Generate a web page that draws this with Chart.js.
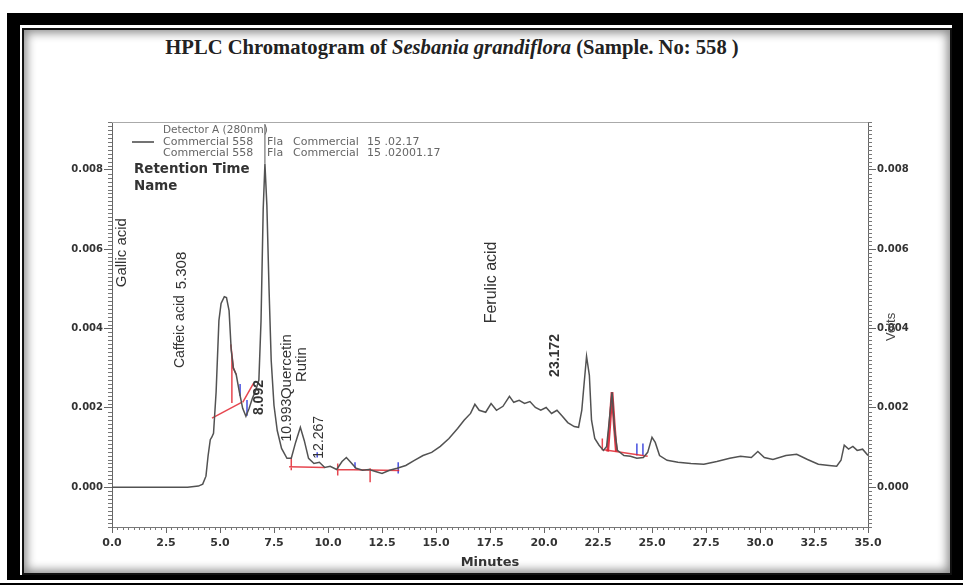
<!DOCTYPE html>
<html>
<head>
<meta charset="utf-8">
<script src="https://cdn.jsdelivr.net/npm/chart.js@4.4.1/dist/chart.umd.min.js"></script>
<style>
html, body { margin: 0; padding: 0; background: #fff; width: 963px; height: 585px; overflow: hidden; }
#frame { position: absolute; left: 7px; top: 13px; width: 956px; height: 567px; background: #000; }
#gap { position: absolute; left: 20px; top: 25px; width: 932px; height: 550px; background: #fff; }
#inner { position: absolute; left: 22px; top: 28px; width: 926px; height: 543px; border: 2px solid #111; background: #fff;
         box-shadow: inset 0 0 10px 3px rgba(0,0,0,0.45); }
#base { position: absolute; left: 0; top: 583px; width: 963px; height: 2px; background: #000; }
#title { position: absolute; left: 0; top: 36px; width: 904px; text-align: center; font-family: "Liberation Serif", serif;
         font-weight: bold; font-size: 20.6px; color: #222; white-space: nowrap; }
canvas { position: absolute; left: 0; top: 0; }
</style>
</head>
<body>
<div id="frame"></div>
<div id="gap"></div>
<div id="inner"></div>
<div id="base"></div>
<div id="title">HPLC Chromatogram of <i>Sesbania grandiflora</i> (Sample. No: 558 )</div>
<canvas id="c" width="963" height="585"></canvas>
<script>
// trace du détecteur (minutes, volts)
const times = [0.0, 2.0, 3.5, 4.0, 4.2, 4.35, 4.45, 4.55, 4.62, 4.7, 4.82, 4.95, 5.05, 5.2, 5.3, 5.42, 5.52, 5.62, 5.75, 5.9,
  6.05, 6.2, 6.35, 6.5, 6.65, 6.8, 6.9, 7.0, 7.08, 7.17, 7.27, 7.37, 7.5, 7.65, 7.85, 8.1, 8.3, 8.5, 8.72, 8.9,
  9.1, 9.35, 9.6, 9.85, 10.1, 10.4, 10.65, 10.85, 11.05, 11.3, 11.6, 11.9, 12.2, 12.5, 12.85, 13.2, 13.6, 14.0, 14.4, 14.8,
  15.2, 15.6, 16.0, 16.3, 16.6, 16.8, 17.0, 17.3, 17.55, 17.8, 18.1, 18.4, 18.6, 18.85, 19.1, 19.35, 19.6, 19.85, 20.1, 20.35,
  20.6, 20.85, 21.1, 21.4, 21.6, 21.75, 21.85, 21.97, 22.1, 22.2, 22.35, 22.55, 22.75, 22.9, 23.0, 23.15, 23.27, 23.4, 23.7, 24.0,
  24.3, 24.6, 24.8, 25.0, 25.15, 25.35, 25.7, 26.2, 26.8, 27.4, 28.0, 28.6, 29.1, 29.6, 29.9, 30.2, 30.6, 31.2, 31.7, 32.2,
  32.7, 33.2, 33.55, 33.75, 33.9, 34.1, 34.3, 34.5, 34.75, 35.0];
const volts = [0.0, 0.0, 0.0, 0.00003, 0.00008, 0.00028, 0.0008, 0.0012, 0.00126, 0.00136, 0.0024, 0.0042, 0.00463, 0.0048, 0.00478, 0.00445, 0.00345, 0.003, 0.00284, 0.00239,
  0.00199, 0.00179, 0.00199, 0.00224, 0.00244, 0.0027, 0.0042, 0.007, 0.00815, 0.0071, 0.005, 0.0032, 0.00206, 0.00143, 0.00098, 0.00073, 0.00073, 0.00113, 0.00151, 0.00118,
  0.00073, 0.0006, 0.00063, 0.0005, 0.00053, 0.00045, 0.00065, 0.00075, 0.00063, 0.00048, 0.00043, 0.00045, 0.0004, 0.00035, 0.00043, 0.00048, 0.00055, 0.00068, 0.0008, 0.00088,
  0.00103, 0.00123, 0.00148, 0.00169, 0.00186, 0.00209, 0.00194, 0.00189, 0.00211, 0.00194, 0.00204, 0.00229, 0.00214, 0.00219, 0.00211, 0.00216, 0.00201, 0.00194, 0.00201, 0.00186,
  0.00194, 0.00179, 0.00163, 0.00153, 0.00151, 0.00194, 0.00257, 0.0033, 0.00282, 0.00169, 0.00123, 0.00106, 0.00093, 0.00103, 0.00156, 0.00239, 0.00143, 0.00093, 0.0008, 0.00078,
  0.00073, 0.00075, 0.00088, 0.00126, 0.00113, 0.0008, 0.00068, 0.00063, 0.0006, 0.00058, 0.00065, 0.00073, 0.00078, 0.00075, 0.0009, 0.00075, 0.0007, 0.0008, 0.00083, 0.0007,
  0.00058, 0.00055, 0.00053, 0.00068, 0.00106, 0.00096, 0.00103, 0.00093, 0.00096, 0.0008];

// lignes de base d'intégration (rouge) et repères (bleu)
const redSegments = [
  [[4.63, 0.00174], [6.0, 0.00214]],
  [[5.55, 0.00337], [5.55, 0.00212]],
  [[5.5, 0.0036], [5.62, 0.003], [5.75, 0.00284]],
  [[6.05, 0.00214], [6.55, 0.00262]],
  [[8.2, 0.00052], [9.85, 0.0005]],
  [[8.3, 0.00075], [8.3, 0.00043]],
  [[10.45, 0.0006], [10.45, 0.0003]],
  [[11.95, 0.00048], [11.95, 0.00013]],
  [[10.45, 0.00045], [13.3, 0.00042]],
  [[22.7, 0.00123], [22.7, 0.00093]],
  [[22.7, 0.00095], [24.8, 0.00078]]
];
const redPeak = [[22.95, 0.0009], [23.05, 0.0016], [23.15, 0.0024], [23.25, 0.0016], [23.35, 0.0009]];
const blueTicks = [
  [[5.93, 0.0026], [5.93, 0.0023]],
  [[6.25, 0.0022], [6.25, 0.0018]],
  [[9.5, 0.00088], [9.5, 0.00075]],
  [[11.25, 0.00063], [11.25, 0.00048]],
  [[13.25, 0.00063], [13.25, 0.00035]],
  [[24.3, 0.0011], [24.3, 0.0008]],
  [[24.58, 0.0011], [24.58, 0.0008]]
];

const xTicks = [0, 2.5, 5, 7.5, 10, 12.5, 15, 17.5, 20, 22.5, 25, 27.5, 30, 32.5, 35];
const yTicks = [0, 0.002, 0.004, 0.006, 0.008];

// étiquettes verticales des pics : texte, minute, volts, taille, gras
const peakNames = ['Gallic acid', 'Caffeic acid', '5.308', '8.092', 'Quercetin', '10.993', 'Rutin', '12.267', 'Ferulic acid', '23.172'];
const peakT = [0.46, 3.15, 3.24, 6.81, 8.1, 8.1, 8.8, 9.58, 17.59, 20.51];
const peakV = [0.00591, 0.00392, 0.00546, 0.00226, 0.00304, 0.00169, 0.00309, 0.00126, 0.00516, 0.00332];
const peakSize = [15, 14, 15, 14, 15, 14, 15, 14, 16, 14];
const peakBold = [false, false, false, true, false, false, false, false, false, true];

function segs(list) {
  const out = [];
  list.forEach(s => {
    s.forEach(p => out.push({ x: p[0], y: p[1] }));
    out.push({ x: s[s.length - 1][0], y: null });
  });
  return out;
}

const decor = {
  id: 'decor',
  afterDraw(chart) {
    const { ctx, chartArea: a, scales } = chart;
    const x = scales.x, y = scales.y;
    ctx.save();
    // cadre haut
    ctx.strokeStyle = '#aaa';
    ctx.lineWidth = 1;
    ctx.beginPath();
    ctx.moveTo(a.left, a.top + 0.5);
    ctx.lineTo(a.right, a.top + 0.5);
    ctx.stroke();
    // petites graduations
    ctx.strokeStyle = '#777';
    ctx.beginPath();
    for (let t = 0; t <= 35.001; t += 0.25) {
      if (Math.abs(t / 2.5 - Math.round(t / 2.5)) < 1e-6) continue;
      const px = Math.round(x.getPixelForValue(t)) + 0.5;
      ctx.moveTo(px, a.bottom);
      ctx.lineTo(px, a.bottom + 3);
    }
    for (let k = -10; k <= 92; k++) {
      if (k >= 0 && k <= 80 && k % 20 === 0) continue;
      const py = Math.round(y.getPixelForValue(k * 0.0001)) + 0.5;
      ctx.moveTo(a.left - 4, py);
      ctx.lineTo(a.left, py);
      ctx.moveTo(a.right, py);
      ctx.lineTo(a.right + 4, py);
    }
    ctx.stroke();
    // trait au-dessus du pic principal
    ctx.strokeStyle = '#555';
    ctx.beginPath();
    const pkx = x.getPixelForValue(7.08);
    ctx.moveTo(pkx, a.top + 2);
    ctx.lineTo(pkx, y.getPixelForValue(0.00815));
    ctx.stroke();
    // légende
    ctx.fillStyle = '#666';
    ctx.textBaseline = 'middle';
    ctx.textAlign = 'left';
    ctx.font = '10.5px "DejaVu Sans"';
    ctx.fillText('Detector A (280nm)', 163, 130);
    ctx.font = '11px "DejaVu Sans"';
    ctx.fillText('Commercial 558', 163, 142);
    ctx.fillText('Fla', 267, 142);
    ctx.fillText('Commercial', 293, 142);
    ctx.fillText('15 .02.17', 367, 142);
    ctx.fillText('Commercial 558', 163, 153);
    ctx.fillText('Fla', 267, 153);
    ctx.fillText('Commercial', 293, 153);
    ctx.fillText('15 .02001.17', 367, 153);
    ctx.strokeStyle = '#444';
    ctx.lineWidth = 1.5;
    ctx.beginPath();
    ctx.moveTo(132, 142);
    ctx.lineTo(154, 142);
    ctx.stroke();
    ctx.fillStyle = '#333';
    ctx.font = 'bold 13.4px "DejaVu Sans"';
    ctx.fillText('Retention Time', 134, 170);
    ctx.fillText('Name', 134, 187);
    // étiquettes des pics
    ctx.textAlign = 'center';
    for (let i = 0; i < peakNames.length; i++) {
      ctx.save();
      ctx.translate(x.getPixelForValue(peakT[i]), y.getPixelForValue(peakV[i]));
      ctx.rotate(-Math.PI / 2);
      ctx.font = (peakBold[i] ? 'bold ' : '') + peakSize[i] + 'px "Liberation Sans"';
      ctx.fillStyle = '#333';
      ctx.fillText(peakNames[i], 0, 0);
      ctx.restore();
    }
    // titre de l'axe droit
    ctx.translate(a.right + 23, y.getPixelForValue(0.00404));
    ctx.rotate(-Math.PI / 2);
    ctx.font = '13px "Liberation Sans"';
    ctx.fillStyle = '#444';
    ctx.fillText('Volts', 0, 0);
    ctx.restore();
  }
};

const tickFont = { family: 'DejaVu Sans', size: 10, weight: 'bold' };

new Chart(document.getElementById('c'), {
  type: 'line',
  data: {
    datasets: [
      { data: times.map((t, i) => ({ x: t, y: volts[i] })), borderColor: '#525252', borderWidth: 1.5, pointRadius: 0 },
      { data: segs(redSegments), borderColor: 'rgba(226,38,48,0.85)', borderWidth: 1.5, pointRadius: 0, spanGaps: false },
      { data: segs([redPeak]), borderColor: 'rgba(214,30,45,0.9)', borderWidth: 2.8, pointRadius: 0, spanGaps: false },
      { data: segs(blueTicks), borderColor: 'rgba(50,60,220,0.9)', borderWidth: 1.5, pointRadius: 0, spanGaps: false }
    ]
  },
  options: {
    responsive: false,
    animation: false,
    layout: { padding: { top: 122, left: 0, right: 0, bottom: 0 } },
    plugins: { legend: { display: false }, tooltip: { enabled: false } },
    scales: {
      x: {
        type: 'linear', min: 0, max: 35,
        afterBuildTicks: s => { s.ticks = xTicks.map(v => ({ value: v })); },
        afterFit: s => { s.height = 58; },
        ticks: { callback: v => v.toFixed(1), font: { family: 'DejaVu Sans', size: 11, weight: 'bold' }, color: '#333', padding: 4, maxRotation: 0, autoSkip: false },
        grid: { drawOnChartArea: false, tickLength: 6, color: '#666' },
        border: { color: '#777' },
        title: { display: true, text: 'Minutes', font: { family: 'DejaVu Sans', size: 13, weight: 'bold' }, color: '#333', padding: { top: 0, bottom: 15 } }
      },
      y: {
        position: 'left', min: -0.001, max: 0.0092,
        afterBuildTicks: s => { s.ticks = yTicks.map(v => ({ value: v })); },
        afterFit: s => { s.width = 112; },
        ticks: { callback: v => v.toFixed(3), font: tickFont, color: '#333', padding: 1 },
        grid: { drawOnChartArea: false, tickLength: 8, color: '#666' },
        border: { color: '#666' }
      },
      y2: {
        position: 'right', min: -0.001, max: 0.0092,
        afterBuildTicks: s => { s.ticks = yTicks.map(v => ({ value: v })); },
        afterFit: s => { s.width = 95; },
        ticks: { callback: v => v.toFixed(3), font: tickFont, color: '#333', padding: 1 },
        grid: { drawOnChartArea: false, tickLength: 8, color: '#666' },
        border: { color: '#666' }
      }
    }
  },
  plugins: [decor]
});
</script>
</body>
</html>
